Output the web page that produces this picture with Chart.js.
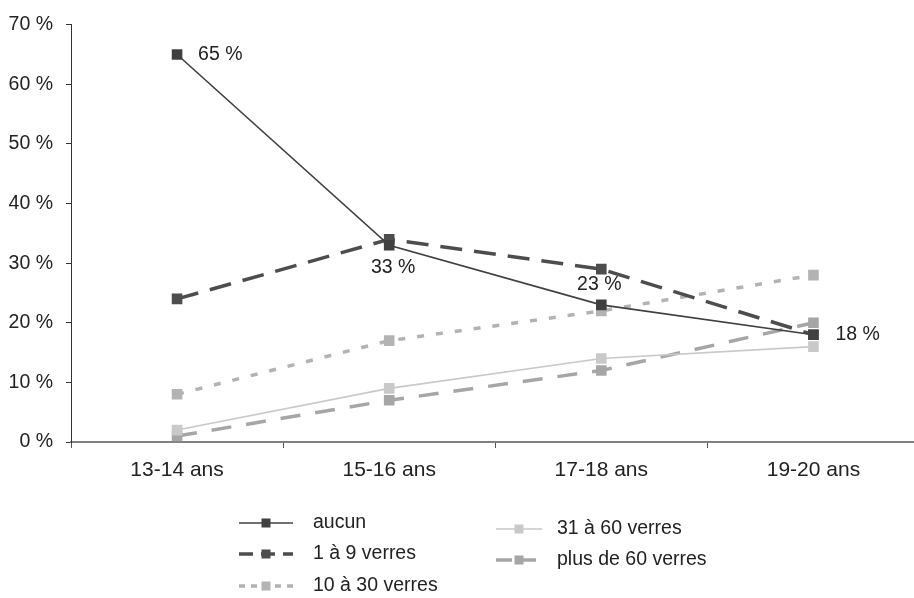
<!DOCTYPE html>
<html>
<head>
<meta charset="utf-8">
<script src="https://cdn.jsdelivr.net/npm/chart.js@4"></script>
<style>
  html, body { margin: 0; padding: 0; overflow: hidden; background: #fff; }
  #wrap { position: relative; width: 927px; height: 598px; }
</style>
</head>
<body>
<div id="wrap"><canvas id="chart"></canvas></div>
<script>
const categories = ['13-14 ans', '15-16 ans', '17-18 ans', '19-20 ans'];
const aucun = [65, 33, 23, 18];
const verres1a9 = [24, 34, 29, 18];
const verres10a30 = [8, 17, 22, 28];
const verres31a60 = [2, 9, 14, 16];
const plusDe60 = [1, 7, 12, 20];
const yTicks = [0, 10, 20, 30, 40, 50, 60, 70];

const FONT = '"Liberation Sans", Arial, sans-serif';

const series = [
  { label: 'aucun', data: aucun, color: '#404040', width: 1.6, dash: [] },
  { label: '1 à 9 verres', data: verres1a9, color: '#4d4d4d', width: 3.5, dash: [22, 12] },
  { label: '10 à 30 verres', data: verres10a30, color: '#b3b3b3', width: 3.5, dash: [7, 12] },
  { label: '31 à 60 verres', data: verres31a60, color: '#c9c9c9', width: 1.6, dash: [] },
  { label: 'plus de 60 verres', data: plusDe60, color: '#a6a6a6', width: 3.5, dash: [20, 15] }
];

// where each legend entry sits (sample line start x, centre y)
const legendPos = [
  { x: 239, y: 523 }, { x: 239, y: 554 }, { x: 239, y: 586 },
  { x: 496, y: 529 }, { x: 496, y: 560 }
];
const legendDash = [[], [14, 8], [6, 6], [], [16, 8]];

// value labels on the "aucun" line
const labelOffsets = [[21, 0, 'left'], [4, 22, 'center'], [-2, -20, 'center'], [22, 0, 'left']];

const valueLabels = {
  id: 'valueLabels',
  afterDatasetsDraw(chart) {
    const ctx = chart.ctx;
    const meta = chart.getDatasetMeta(0);
    ctx.save();
    ctx.font = '19.5px ' + FONT;
    ctx.fillStyle = '#222';
    ctx.textBaseline = 'middle';
    meta.data.forEach((pt, i) => {
      const o = labelOffsets[i];
      ctx.textAlign = o[2];
      ctx.fillText(aucun[i] + ' %', pt.x + o[0], pt.y + o[1]);
    });
    ctx.restore();
  }
};

const customLegend = {
  id: 'customLegend',
  afterDraw(chart) {
    const ctx = chart.ctx;
    ctx.save();
    series.forEach((s, i) => {
      const p = legendPos[i];
      const w = i < 3 ? 54 : 46;
      ctx.strokeStyle = s.color;
      ctx.lineWidth = s.width;
      ctx.setLineDash(legendDash[i]);
      ctx.beginPath();
      ctx.moveTo(p.x, p.y);
      ctx.lineTo(p.x + w, p.y);
      ctx.stroke();
      ctx.setLineDash([]);
      ctx.fillStyle = s.color;
      ctx.fillRect(p.x + w / 2 - 4.5, p.y - 4.5, 9, 9);
      ctx.fillStyle = '#222';
      ctx.font = '19.5px ' + FONT;
      ctx.textBaseline = 'middle';
      ctx.textAlign = 'left';
      ctx.fillText(s.label, p.x + (i < 3 ? 74 : 61), p.y);
    });
    ctx.restore();
  }
};

new Chart(document.getElementById('chart'), {
  type: 'line',
  data: {
    labels: categories,
    datasets: series.map(s => ({
      label: s.label,
      data: s.data,
      borderColor: s.color,
      backgroundColor: s.color,
      borderWidth: s.width,
      borderDash: s.dash,
      pointStyle: 'rect',
      pointRadius: 7.5,
      pointHoverRadius: 7.5,
      pointBorderWidth: 0,
      tension: 0,
      fill: false
    }))
  },
  options: {
    responsive: true,
    maintainAspectRatio: false,
    animation: false,
    layout: { padding: { top: 23, right: 0, left: 0, bottom: 0 } },
    plugins: { legend: { display: false }, tooltip: { enabled: false } },
    scales: {
      x: {
        offset: true,
        grid: { offset: true, drawOnChartArea: false, drawTicks: true, tickLength: 6, color: '#555' },
        border: { color: '#808080', width: 2 },
        ticks: { color: '#222', font: { size: 21, family: FONT }, padding: 10, maxRotation: 0 },
        afterFit(scale) { scale.height = 156; }
      },
      y: {
        min: 0,
        max: 70,
        afterBuildTicks(scale) { scale.ticks = yTicks.map(v => ({ value: v })); },
        grid: { drawOnChartArea: false, drawTicks: true, tickLength: 5, color: '#333' },
        border: { color: '#333', width: 1 },
        ticks: {
          color: '#222',
          font: { size: 19.5, family: FONT },
          padding: 13,
          callback: v => v + ' %'
        },
        afterFit(scale) { scale.width = 71; }
      }
    }
  },
  plugins: [valueLabels, customLegend]
});
</script>
</body>
</html>
